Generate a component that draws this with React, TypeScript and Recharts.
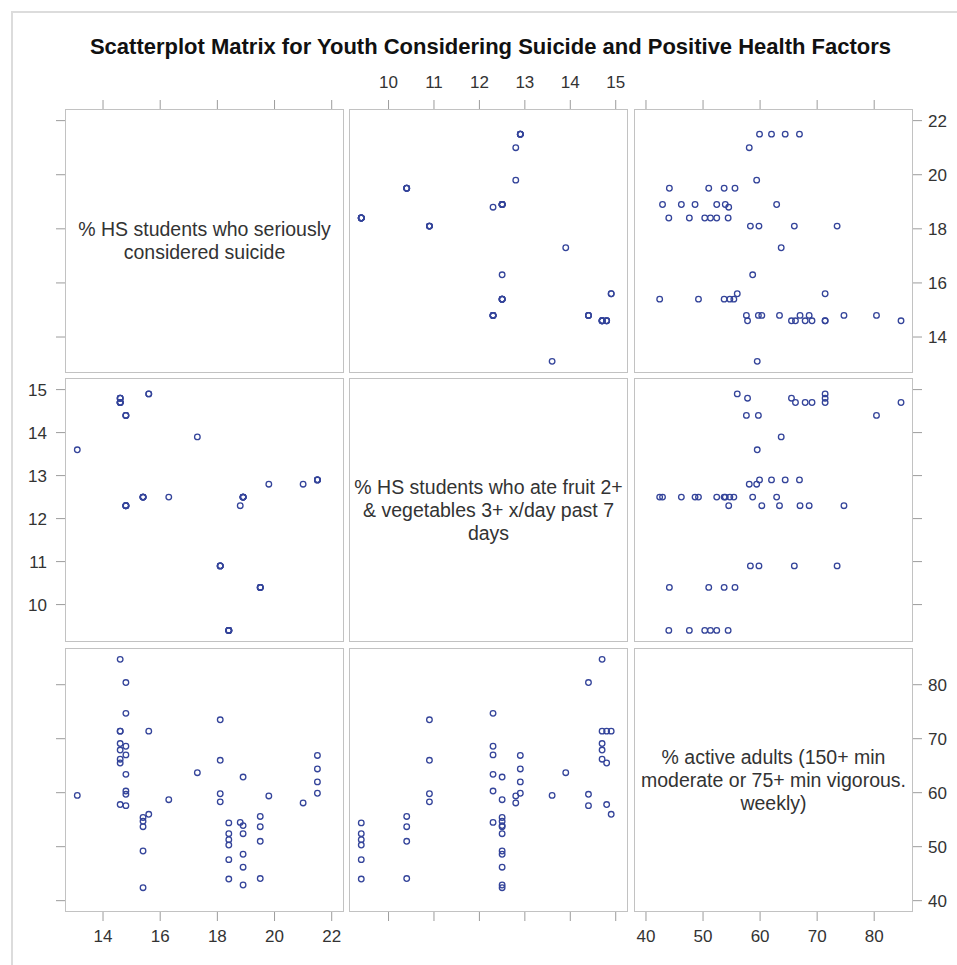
import React from 'react';
import { ScatterChart, Scatter, XAxis, YAxis } from 'recharts';

// ---- data: one row per observation (state-year) ----
const suicide = [21.5, 21.5, 21.5, 21.5, 21.0, 19.8, 19.5, 19.5, 19.5, 19.5, 18.9, 18.9, 18.9, 18.9, 18.9, 18.9, 18.8, 18.4, 18.4, 18.4, 18.4, 18.4, 18.4, 18.1, 18.1, 18.1, 18.1, 17.3, 16.3, 15.6, 15.6, 15.4, 15.4, 15.4, 15.4, 15.4, 14.8, 14.8, 14.8, 14.8, 14.8, 14.8, 14.8, 14.8, 14.6, 14.6, 14.6, 14.6, 14.6, 14.6, 14.6, 14.6, 13.1];
const fruit = [12.9, 12.9, 12.9, 12.9, 12.8, 12.8, 10.4, 10.4, 10.4, 10.4, 12.5, 12.5, 12.5, 12.5, 12.5, 12.5, 12.3, 9.4, 9.4, 9.4, 9.4, 9.4, 9.4, 10.9, 10.9, 10.9, 10.9, 13.9, 12.5, 14.9, 14.9, 12.5, 12.5, 12.5, 12.5, 12.5, 12.3, 12.3, 12.3, 12.3, 12.3, 14.4, 14.4, 14.4, 14.8, 14.8, 14.8, 14.7, 14.7, 14.7, 14.7, 14.7, 13.6];
const active = [59.9, 62.0, 64.4, 66.9, 58.1, 59.4, 44.1, 51.0, 53.7, 55.6, 42.9, 46.2, 48.6, 52.4, 53.9, 62.9, 54.5, 44.0, 47.6, 50.3, 51.3, 52.4, 54.4, 58.3, 59.8, 66.0, 73.5, 63.7, 58.7, 56.0, 71.4, 42.4, 49.2, 53.7, 54.7, 55.4, 60.3, 63.4, 67.0, 68.6, 74.7, 57.6, 59.7, 80.4, 57.8, 65.5, 71.4, 66.2, 67.9, 69.1, 71.4, 84.7, 59.5];

const suicideTicks = [14, 16, 18, 20, 22];
const fruitTicks = [10, 11, 12, 13, 14, 15];
const activeTicks = [40, 50, 60, 70, 80];

const TITLE = 'Scatterplot Matrix for Youth Considering Suicide and Positive Health Factors';
const suicideLabel = ['% HS students who seriously', 'considered suicide'];
const fruitLabel = ['% HS students who ate fruit 2+', '& vegetables 3+ x/day past 7', 'days'];
const activeLabel = ['% active adults (150+ min', 'moderate or 75+ min vigorous.', 'weekly)'];

const rows = suicide.map((s, i) => ({ suicide: s, fruit: fruit[i], active: active[i] }));

const vars: Record<string, { domain: [number, number]; ticks: number[]; label: string[] }> = {
  suicide: { domain: [12.67, 22.43], ticks: suicideTicks, label: suicideLabel },
  fruit: { domain: [9.13, 15.27], ticks: fruitTicks, label: fruitLabel },
  active: { domain: [37.9, 86.8], ticks: activeTicks, label: activeLabel },
};
const order = ['suicide', 'fruit', 'active'];

// ---- layout ----
const COLS = [65, 349, 634];
const ROWS = [109, 378, 648];
const PW = 279;
const PH = 264;
const AW = 60;
const AH = 44;
const FONT = '"Liberation Sans", Arial, sans-serif';
const MARK = '#34449a';
const TICKC = '#333333';
const LINEC = '#9c9c9c';

const Marker = (props: any) => {
  const { cx, cy } = props;
  if (cx == null || cy == null) return null;
  return <circle cx={cx} cy={cy} r={2.8} fill="none" stroke={MARK} strokeWidth={1.3} />;
};

type PanelProps = {
  r: number;
  c: number;
};

function Panel({ r, c }: PanelProps) {
  const xv = order[c];
  const yv = order[r];
  const xOrient: 'top' | 'bottom' | null = r === 0 ? 'top' : r === 2 ? 'bottom' : null;
  const yOrient: 'left' | 'right' | null = c === 0 ? 'left' : c === 2 ? 'right' : null;
  const xLabels = (xOrient === 'top' && c === 1) || (xOrient === 'bottom' && c !== 1);
  const yLabels = (yOrient === 'left' && r === 1) || (yOrient === 'right' && r !== 1);
  const hasTop = xOrient === 'top';
  const hasBottom = xOrient === 'bottom';
  const hasLeft = yOrient === 'left';
  const hasRight = yOrient === 'right';
  const w = PW + (hasLeft ? AW : 0) + (hasRight ? AW : 0);
  const h = PH + (hasTop ? AH : 0) + (hasBottom ? AH : 0);
  const x0 = COLS[c];
  const y0 = ROWS[r];
  const diag = r === c;
  const tickStyle = { fontSize: 17, fill: TICKC, fontFamily: FONT };
  return (
    <>
      <div
        style={{
          position: 'absolute',
          left: x0,
          top: y0,
          width: PW,
          height: PH,
          border: '1.5px solid #c2c2c2',
          boxSizing: 'border-box',
        }}
      />
      {diag && (
        <div
          style={{
            position: 'absolute',
            left: x0,
            top: y0,
            width: PW,
            height: PH,
            display: 'flex',
            alignItems: 'center',
            justifyContent: 'center',
            textAlign: 'center',
            fontFamily: FONT,
            fontSize: 19.5,
            lineHeight: '23px',
            color: '#333',
            whiteSpace: 'nowrap',
          }}
        >
          <div>
            {vars[xv].label.map((t, i) => (
              <div key={i}>{t}</div>
            ))}
          </div>
        </div>
      )}
      <div style={{ position: 'absolute', left: x0 - (hasLeft ? AW : 0), top: y0 - (hasTop ? AH : 0) }}>
        <ScatterChart width={w} height={h} margin={{ top: 0, right: 0, bottom: 0, left: 0 }}>
          <XAxis
            xAxisId="x"
            type="number"
            dataKey={xv}
            domain={vars[xv].domain}
            allowDataOverflow
            ticks={vars[xv].ticks}
            interval={0}
            hide={!xOrient}
            orientation={xOrient || 'bottom'}
            height={AH}
            axisLine={false}
            tickLine={{ stroke: LINEC, strokeWidth: 1 }}
            tickSize={9}
            tickMargin={hasTop ? 12 : 9}
            tick={tickStyle}
            tickFormatter={(v: number) => (xLabels ? String(v) : '')}
          />
          <YAxis
            yAxisId="y"
            type="number"
            dataKey={yv}
            domain={vars[yv].domain}
            allowDataOverflow
            ticks={vars[yv].ticks}
            interval={0}
            hide={!yOrient}
            orientation={yOrient || 'left'}
            width={AW}
            axisLine={false}
            tickLine={{ stroke: LINEC, strokeWidth: 1 }}
            tickSize={9}
            tickMargin={hasLeft ? 9 : 6}
            tick={tickStyle}
            tickFormatter={(v: number) => (yLabels ? String(v) : '')}
          />
          {!diag && (
            <Scatter
              xAxisId="x"
              yAxisId="y"
              data={rows}
              shape={Marker}
              isAnimationActive={false}
            />
          )}
        </ScatterChart>
      </div>
    </>
  );
}

export default function App() {
  const cells: JSX.Element[] = [];
  for (let r = 0; r < 3; r++) {
    for (let c = 0; c < 3; c++) {
      cells.push(<Panel key={`${r}-${c}`} r={r} c={c} />);
    }
  }
  return (
    <div
      style={{
        position: 'absolute',
        left: 0,
        top: 0,
        width: 957,
        height: 965,
        overflow: 'hidden',
        background: '#fff',
        fontFamily: FONT,
      }}
    >
      <div
        style={{
          position: 'absolute',
          left: 11,
          top: 11,
          width: 1000,
          height: 1000,
          borderLeft: '2px solid #dcdcdc',
          borderTop: '2px solid #dcdcdc',
        }}
      />
      <div
        style={{
          position: 'absolute',
          left: 12,
          top: 34,
          width: 957,
          textAlign: 'center',
          fontFamily: FONT,
          fontWeight: 'bold',
          fontSize: 22,
          color: '#111',
          whiteSpace: 'nowrap',
        }}
      >
        {TITLE}
      </div>
      {cells}
    </div>
  );
}
